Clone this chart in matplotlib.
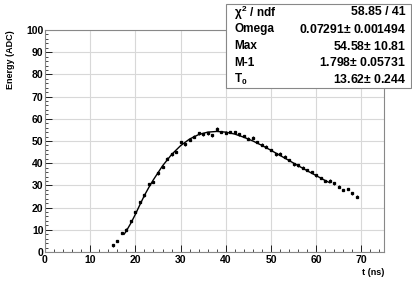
import matplotlib
matplotlib.use("Agg")
import matplotlib.pyplot as plt
from matplotlib.ticker import MultipleLocator
from matplotlib.patches import Rectangle

t_data = [15, 16, 17, 18, 19, 20, 21, 22, 23, 24, 25, 26, 27, 28, 29, 30, 31, 32, 33, 34,
          35, 36, 37, 38, 39, 40, 41, 42, 43, 44, 45, 46, 47, 48, 49, 50, 51, 52, 53, 54,
          55, 56, 57, 58, 59, 60, 61, 62, 63, 64, 65, 66, 67, 68, 69]
e_data = [3, 5, 8.5, 10, 14, 18, 22.5, 25.5, 30.5, 31.5, 35.5, 38.5, 42, 44, 45, 49.5, 48.5, 50.5, 52, 53.5,
          53, 53.5, 52.5, 55.5, 54, 53.8, 54, 54, 53, 52.3, 51, 51.5, 49.5, 48.3, 47.5, 46, 44, 44.3, 43, 41.5,
          39.5, 39, 38, 37, 36, 34.5, 33.3, 32, 32.2, 31, 29.5, 28, 28.4, 26.5, 25]
e_err = [0.6] * len(t_data)

t_fit = [17.5, 18, 19, 20, 21, 22, 23, 24, 26, 28, 30, 32, 34, 36, 38, 40, 42, 44, 46, 48,
         50, 52, 54, 56, 58, 60, 62, 63]
e_fit = [8, 9.5, 13, 17, 21.3, 25.5, 29.2, 32.6, 38.8, 43.9, 47.9, 50.9, 52.9, 54.0, 54.3, 54.0, 53.1, 51.7, 50.0, 48.0,
         45.8, 43.5, 41.2, 38.9, 36.6, 34.4, 32.2, 31.2]

stats_names = ["$\\chi^2$ / ndf", "Omega", "Max", "M-1", "T$_0$"]
stats_vals = ["58.85 / 41", "0.07291$\\pm$ 0.001494", "54.58$\\pm$ 10.81", "1.798$\\pm$ 0.05731", "13.62$\\pm$ 0.244"]

plt.rcParams['font.family'] = ['Liberation Sans', 'DejaVu Sans']
plt.rcParams['mathtext.fontset'] = 'custom'
plt.rcParams['mathtext.rm'] = 'Liberation Sans:bold'
plt.rcParams['mathtext.it'] = 'Liberation Sans:bold'

fig = plt.figure(figsize=(4.12, 2.82), dpi=100)
ax = fig.add_axes([45/412, 30/282, 339/412, 222/282])
ax.set_xlim(0, 75)
ax.set_ylim(0, 100)
ax.xaxis.set_major_locator(MultipleLocator(10))
ax.xaxis.set_minor_locator(MultipleLocator(2))
ax.yaxis.set_major_locator(MultipleLocator(10))
ax.yaxis.set_minor_locator(MultipleLocator(2))
ax.grid(True, which='major', color='#d8d8d8', lw=0.8)
ax.set_axisbelow(True)
ax.tick_params(which='both', direction='in', top=False, right=False, labelsize=7.5)
ax.tick_params(which='major', length=5, width=0.6)
ax.tick_params(which='minor', length=2.5, width=0.5)
for lab in ax.get_xticklabels() + ax.get_yticklabels():
    lab.set_fontweight('bold')
ax.tick_params(axis='x', pad=2)
ax.tick_params(axis='y', pad=1)
for s in ax.spines.values():
    s.set_color('#888888')
    s.set_linewidth(0.8)

ax.errorbar(t_data, e_data, yerr=e_err, fmt='s', ms=1.4, color='black', elinewidth=0.6, capsize=0)
ax.plot(t_fit, e_fit, color='black', lw=1.0)

ax.set_ylabel("Energy (ADC)", fontsize=6.5, fontweight='bold', loc='top', labelpad=8)
ax.set_xlabel("t (ns)", fontsize=6.5, fontweight='bold', loc='right', labelpad=2)

# stats box
bx0, by0, bx1, by1 = 226/412, 1 - 88/282, 411/412, 1 - 4/282
fig.patches.append(Rectangle((bx0, by0), bx1 - bx0, by1 - by0, transform=fig.transFigure,
                             facecolor='white', edgecolor='#888888', lw=0.8, zorder=5))
n = len(stats_names)
h = (by1 - by0) / n
for i, (nm, v) in enumerate(zip(stats_names, stats_vals)):
    yc = by1 - h * (i + 0.5)
    fig.text(bx0 + 0.02, yc, nm, fontsize=8.5, fontweight='bold', va='center', ha='left', zorder=6)
    fig.text(bx1 - 0.012, yc, v, fontsize=8.8, fontweight='bold', va='center', ha='right', zorder=6)

fig.savefig("out.png", dpi=100)
